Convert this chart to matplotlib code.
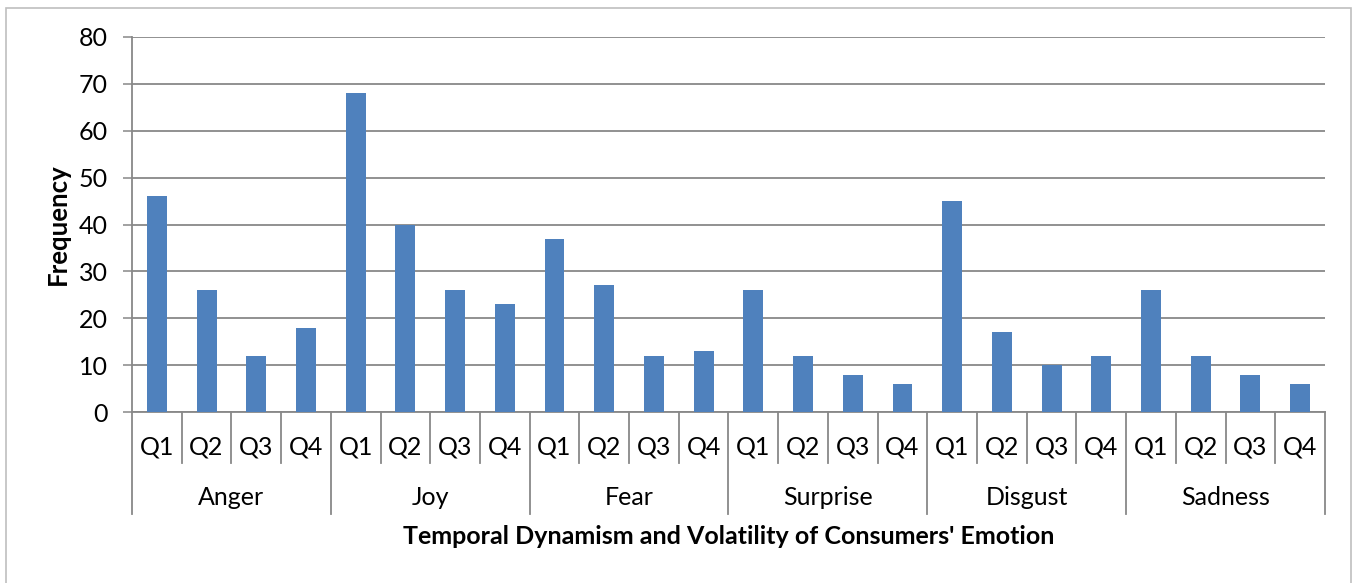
import matplotlib.pyplot as plt
from matplotlib.patches import Rectangle

emotions = ['Anger', 'Joy', 'Fear', 'Surprise', 'Disgust', 'Sadness']
quarters = ['Q1', 'Q2', 'Q3', 'Q4']
anger = [46, 26, 12, 18]
joy = [68, 40, 26, 23]
fear = [37, 27, 12, 13]
surprise = [26, 12, 8, 6]
disgust = [45, 17, 10, 12]
sadness = [26, 12, 8, 6]

values = anger + joy + fear + surprise + disgust + sadness
xs = list(range(len(values)))

plt.rcParams['font.family'] = ['Lato', 'DejaVu Sans']
grid_col = '#888888'
fs = 18

fig = plt.figure(figsize=(13.54, 5.83), dpi=100)
ax = fig.add_axes([132 / 1354, 1 - 412 / 583, (1325 - 132) / 1354, (412 - 37) / 583])

# outer chart frame
fig.patches.append(Rectangle((6 / 1354, -0.01), (1351 - 6) / 1354, 1 - 8 / 583 + 0.01,
                             transform=fig.transFigure, fill=False,
                             edgecolor='#bfbfbf', linewidth=1.2))

ax.bar(xs, values, width=0.4, color='#4f81bd', zorder=3)

ax.set_xlim(-0.5, len(values) - 0.5)
ax.set_ylim(0, 80)
ax.set_yticks(range(0, 81, 10))
ax.yaxis.grid(True, color=grid_col, linewidth=1.3, zorder=0)
ax.tick_params(axis='y', length=6.5, width=1.1, color=grid_col, labelsize=fs, pad=11)
ax.set_xticks([])
for s in ['top', 'right']:
    ax.spines[s].set_visible(False)
for s in ['left', 'bottom']:
    ax.spines[s].set_color(grid_col)
    ax.spines[s].set_linewidth(1.3)

trans = ax.get_xaxis_transform()
q_bot = -0.136
g_bot = -0.272
n = len(values)
for i in range(n + 1):
    xb = i - 0.5
    low = g_bot if i % 4 == 0 else q_bot
    ax.plot([xb, xb], [0, low], transform=trans, color=grid_col,
            linewidth=1.3, clip_on=False)
for i in xs:
    ax.text(i, -0.093, quarters[i % 4], transform=trans, ha='center', va='center',
            fontsize=fs)
for g, name in enumerate(emotions):
    ax.text(g * 4 + 1.5, -0.229, name, transform=trans, ha='center', va='center',
            fontsize=fs)

ax.text(0.5, -0.333, "Temporal Dynamism and Volatility of Consumers' Emotion",
        transform=ax.transAxes, ha='center', va='center', fontsize=fs, fontweight='bold')
ax.text(-0.062, 0.5, 'Frequency', transform=ax.transAxes, ha='center', va='center',
        rotation=90, fontsize=fs + 0.5, fontweight='bold')

fig.savefig('out.png', dpi=100)
